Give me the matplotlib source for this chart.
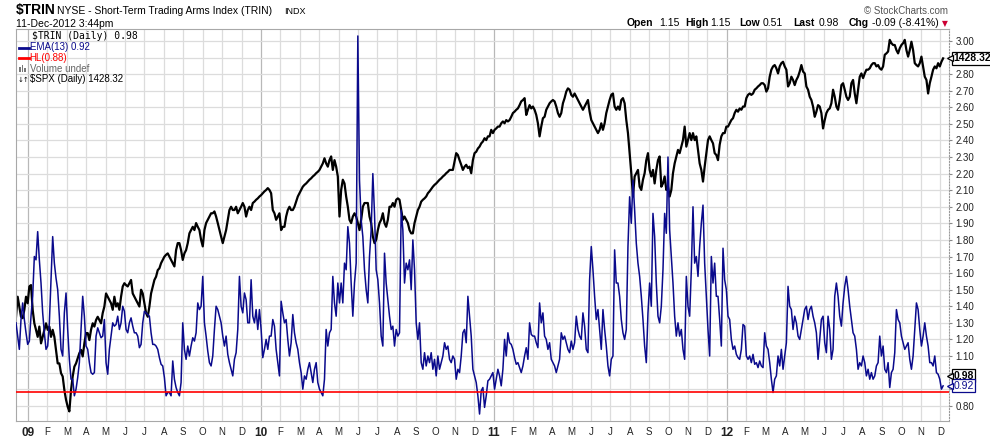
import numpy as np
import matplotlib.pyplot as plt
import matplotlib.transforms as mtransforms
from matplotlib.lines import Line2D
from matplotlib.patches import Rectangle

plt.rcParams['font.family'] = ['Liberation Sans', 'DejaVu Sans']

W, H = 990, 438

# ---------------  Data  ---------------
# one reading every ~2.6 days, starting mid Dec 2008 and ending 11 Dec 2012

# $TRIN EMA(13)
ema13 = [
    1.30, 1.22, 1.14, 1.32, 1.42, 1.32, 1.24, 1.17, 1.19, 1.34,
    1.46, 1.70, 1.68, 1.85, 1.68, 1.54, 1.36, 1.24, 1.14, 1.16,
    1.30, 1.56, 1.82, 1.66, 1.57, 1.50, 1.34, 1.14, 1.10, 1.36,
    1.48, 1.26, 1.08, 0.96, 0.96, 0.86, 0.90, 0.97, 1.06, 1.26,
    1.46, 1.34, 1.16, 1.14, 1.06, 1.00, 0.99, 1.00, 1.22, 1.27,
    1.24, 1.21, 1.22, 1.32, 1.06, 0.99, 1.14, 1.22, 1.30, 1.28,
    1.29, 1.34, 1.26, 1.30, 1.40, 1.37, 1.26, 1.24, 1.30, 1.33,
    1.28, 1.24, 1.24, 1.22, 1.15, 1.17, 1.30, 1.37, 1.36, 1.35,
    1.34, 1.24, 1.17, 1.17, 1.16, 1.14, 1.09, 1.05, 1.04, 0.97,
    0.86, 0.88, 0.88, 0.86, 1.07, 0.96, 0.91, 0.88, 0.86, 0.94,
    1.30, 1.14, 1.08, 1.16, 1.10, 1.16, 1.21, 1.19, 1.24, 1.42,
    1.38, 1.40, 1.58, 1.30, 1.22, 1.13, 1.06, 1.04, 1.10, 1.26,
    1.40, 1.38, 1.34, 1.30, 1.22, 1.16, 1.22, 1.11, 1.06, 1.02,
    0.98, 1.08, 1.12, 1.26, 1.58, 1.40, 1.36, 1.48, 1.44, 1.30,
    # 2010
    1.30, 1.56, 1.34, 1.30, 1.38, 1.26, 1.38, 1.26, 1.09, 1.14,
    1.20, 1.14, 1.22, 1.22, 1.32, 1.28, 1.14, 1.06, 0.98, 1.43,
    1.36, 1.30, 1.32, 1.20, 1.10, 1.18, 1.35, 1.24, 1.18, 1.14,
    1.06, 1.00, 0.90, 0.98, 0.96, 1.02, 1.06, 1.00, 0.94, 1.02,
    1.06, 0.94, 0.90, 0.88, 0.86, 0.96, 1.26, 1.16, 1.24, 1.26,
    1.58, 1.42, 1.34, 1.54, 1.42, 1.54, 1.42, 1.66, 1.62, 1.88,
    1.78, 1.54, 1.34, 1.54, 1.66, 3.03, 2.16, 1.92, 1.82, 1.62,
    1.50, 1.42, 1.70, 1.86, 2.20, 1.96, 1.62, 1.56, 1.42, 1.22,
    1.16, 1.72, 1.54, 1.44, 1.34, 1.26, 1.28, 1.16, 1.26, 1.22,
    1.24, 1.98, 1.86, 1.54, 1.66, 1.62, 1.68, 1.50, 1.80, 1.62,
    1.30, 1.20, 1.30, 1.06, 1.02, 1.12, 1.04, 1.10, 1.06, 1.12,
    1.02, 1.08, 0.98, 1.10, 1.02, 1.06, 1.10, 1.18, 1.14, 1.16,
    1.08, 1.06, 1.10, 1.08, 0.96, 1.02, 1.00, 1.10, 1.24, 1.26,
    1.18, 1.46, 1.34, 1.22, 1.02, 0.98, 0.94, 0.86, 0.75, 0.89,
    0.91, 0.79,
    # 2011
    0.86, 0.95, 0.96, 0.98, 1.00, 0.90, 0.96, 1.02, 0.98, 0.92,
    1.02, 1.20, 1.10, 1.24, 1.18, 1.17, 1.14, 1.09, 1.05, 1.06,
    1.03, 1.00, 1.04, 1.10, 1.15, 1.08, 1.30, 1.23, 1.22, 1.22,
    1.18, 1.15, 1.42, 1.30, 1.36, 1.22, 1.20, 1.14, 1.18, 1.08,
    1.06, 1.04, 1.00, 1.04, 1.08, 1.24, 1.20, 1.22, 1.18, 1.14,
    1.12, 1.19, 1.14, 1.18, 1.34, 1.26, 1.22, 1.20, 1.36, 1.28,
    1.14, 1.12, 1.56, 1.76, 1.62, 1.46, 1.32, 1.38, 1.26, 1.14,
    1.38, 1.26, 1.16, 1.04, 0.98, 1.08, 1.10, 1.74, 1.54, 1.54,
    1.46, 1.32, 1.24, 1.20, 1.26, 1.76, 2.06, 1.90, 2.16, 1.98,
    1.78, 1.66, 1.58, 1.46, 1.32, 1.16, 1.06, 1.36, 1.54, 1.40,
    1.96, 1.82, 1.54, 1.34, 1.30, 1.40, 1.62, 1.96, 1.84, 2.30,
    1.86, 1.70, 1.54, 1.34, 1.22, 1.30, 1.22, 1.26, 1.14, 1.08,
    1.58, 1.40, 1.34, 1.62, 2.00, 1.66, 1.70, 1.58, 1.76, 1.90,
    2.01, 1.66, 1.46, 1.26, 1.10, 1.70, 1.54,
    # 2012
    1.66, 1.46, 1.46, 1.32, 1.16, 1.75, 1.56, 1.50, 1.34, 1.32,
    1.20, 1.14, 1.16, 1.11, 1.09, 1.08, 1.14, 1.29, 1.28, 1.10,
    1.08, 1.10, 1.06, 1.11, 1.05, 1.06, 1.03, 1.07, 1.04, 1.03,
    1.24, 1.16, 1.14, 1.06, 0.96, 0.88, 0.96, 0.98, 1.10, 1.04,
    1.14, 1.02, 1.10, 1.18, 1.52, 1.40, 1.38, 1.26, 1.34, 1.30,
    1.22, 1.20, 1.26, 1.32, 1.38, 1.40, 1.32, 1.38, 1.40, 1.34,
    1.30, 1.24, 1.08, 1.20, 1.32, 1.34, 1.18, 1.12, 1.34, 1.26,
    1.08, 1.14, 1.46, 1.54, 1.46, 1.34, 1.28, 1.42, 1.52, 1.58,
    1.50, 1.40, 1.32, 1.24, 1.22, 1.14, 1.02, 1.06, 1.04, 1.10,
    1.06, 0.98, 1.02, 0.96, 1.00, 0.96, 0.98, 1.04, 1.06, 1.22,
    1.10, 1.16, 1.02, 1.00, 1.06, 0.91, 1.00, 1.02, 1.12, 1.38,
    1.32, 1.30, 1.22, 1.18, 1.14, 1.16, 1.18, 1.08, 1.02, 1.10,
    1.26, 1.42, 1.38, 1.26, 1.16, 1.22, 1.30, 1.22, 1.16, 1.06,
    1.06, 1.04, 1.10, 1.00, 0.99, 0.96, 0.90, 0.92,
]

# $SPX close (overlay)
spx = [
    874, 917, 896, 874, 871, 889, 917, 903, 939, 942,
    889, 860, 846, 831, 853, 817, 831, 846, 860, 846,
    853, 831, 846, 831, 803, 774, 774, 753, 746, 717,
    696, 681, 671, 717, 746, 767, 774, 785, 796, 803,
    789, 817, 839, 839, 824, 846, 860, 853, 867, 874,
    867, 860, 882, 896, 924, 917, 910, 903, 889, 917,
    896, 903, 889, 917, 939, 946, 942, 939, 946, 953,
    924, 917, 910, 903, 896, 932, 924, 903, 882, 874,
    896, 924, 939, 953, 960, 974, 978, 989, 996, 1003,
    1007, 1010, 1003, 996, 989, 982, 1017, 1032, 1032, 1017,
    996, 1010, 1017, 1032, 1053, 1060, 1067, 1060, 1075, 1067,
    1060, 1039, 1025, 1060, 1075, 1082, 1089, 1096, 1096, 1100,
    1089, 1075, 1060, 1046, 1032, 1046, 1060, 1082, 1103, 1110,
    1103, 1103, 1110, 1096, 1103, 1110, 1118, 1110, 1089, 1103,
    # 2010
    1110, 1103, 1118, 1121, 1125, 1128, 1132, 1135, 1139, 1143,
    1146, 1150, 1146, 1139, 1103, 1096, 1082, 1089, 1096, 1060,
    1067, 1067, 1089, 1103, 1110, 1103, 1103, 1110, 1121, 1132,
    1139, 1146, 1153, 1157, 1160, 1164, 1168, 1171, 1175, 1178,
    1182, 1185, 1189, 1196, 1203, 1214, 1203, 1196, 1210, 1218,
    1189, 1210, 1196, 1175, 1089, 1146, 1168, 1160, 1132, 1110,
    1082, 1075, 1089, 1096, 1089, 1075, 1060, 1082, 1110, 1118,
    1118, 1118, 1089, 1075, 1046, 1032, 1039, 1060, 1075, 1082,
    1096, 1075, 1067, 1082, 1110, 1110, 1118, 1110, 1125, 1128,
    1125, 1103, 1082, 1089, 1082, 1075, 1060, 1053, 1053, 1075,
    1089, 1103, 1110, 1121, 1125, 1128, 1132, 1139, 1143, 1148,
    1153, 1157, 1160, 1164, 1168, 1171, 1175, 1178, 1182, 1185,
    1189, 1189, 1189, 1207, 1225, 1221, 1210, 1200, 1189, 1196,
    1200, 1193, 1196, 1182, 1210, 1225, 1228, 1235, 1239, 1246,
    1250, 1257,
    # 2011
    1253, 1261, 1261, 1275, 1268, 1275, 1278, 1282, 1282, 1289,
    1293, 1289, 1296, 1293, 1296, 1303, 1311, 1314, 1318, 1321,
    1328, 1336, 1339, 1343, 1307, 1318, 1328, 1321, 1325, 1318,
    1307, 1289, 1261, 1282, 1300, 1303, 1318, 1325, 1332, 1336,
    1339, 1336, 1325, 1311, 1303, 1311, 1332, 1343, 1357, 1364,
    1361, 1350, 1346, 1353, 1346, 1339, 1332, 1325, 1318, 1325,
    1332, 1339, 1314, 1296, 1289, 1282, 1275, 1268, 1275, 1289,
    1275, 1289, 1311, 1325, 1339, 1350, 1353, 1325, 1318, 1325,
    1318, 1339, 1343, 1332, 1296, 1268, 1225, 1182, 1132, 1175,
    1182, 1189, 1153, 1146, 1168, 1182, 1210, 1225, 1189, 1175,
    1189, 1160, 1189, 1210, 1218, 1153, 1160, 1175, 1146, 1153,
    1132, 1146, 1182, 1203, 1218, 1232, 1225, 1239, 1253, 1282,
    1239, 1253, 1268, 1253, 1268, 1253, 1261, 1232, 1203, 1189,
    1164, 1196, 1225, 1253, 1261, 1253, 1246,
    # 2012
    1225, 1221, 1210, 1243, 1261, 1268, 1268, 1282, 1282, 1289,
    1296, 1300, 1311, 1318, 1314, 1321, 1318, 1325, 1325, 1343,
    1350, 1353, 1350, 1353, 1361, 1364, 1368, 1371, 1375, 1375,
    1371, 1357, 1364, 1389, 1404, 1411, 1414, 1407, 1396, 1411,
    1418, 1421, 1411, 1404, 1368, 1375, 1389, 1382, 1371, 1382,
    1389, 1400, 1414, 1400, 1396, 1368, 1361, 1346, 1339, 1325,
    1303, 1314, 1328, 1325, 1311, 1278, 1296, 1311, 1318, 1321,
    1332, 1361, 1346, 1325, 1318, 1339, 1371, 1375, 1361, 1346,
    1339, 1346, 1375, 1382, 1353, 1332, 1361, 1389, 1396, 1386,
    1396, 1404, 1404, 1407, 1414, 1418, 1418, 1411, 1414, 1407,
    1404, 1411, 1436, 1439, 1443, 1468, 1461, 1457, 1457, 1446,
    1439, 1450, 1457, 1461, 1468, 1446, 1432, 1446, 1464, 1446,
    1418, 1414, 1411, 1418, 1432, 1411, 1389, 1382, 1353, 1375,
    1389, 1404, 1411, 1407, 1418, 1411, 1421, 1428.32,
]

hl_level = 0.88
trin_last = 0.98
ema_last = 0.92
spx_last = 1428.32

quote_names = ['Open', 'High', 'Low', 'Last', 'Chg']
quote_values = ['1.15', '1.15', '0.51', '0.98', '-0.09 (-8.41%)']

month_letters = ['J', 'F', 'M', 'A', 'M', 'J', 'J', 'A', 'S', 'O', 'N', 'D']
year_labels = ['09', '10', '11', '12']
price_ticks = [round(0.8 + 0.1 * i, 2) for i in range(23)]
# these labels sit under the value boxes on the right edge
covered_ticks = [0.90, 1.00, 2.90]

# sample dates as months since 1 Jan 2009
months = -0.618 + 0.0859 * np.arange(len(ema13))
# $SPX sits on its own hidden scale
spx_on_axis = 0.754 + (np.array(spx) - 666.8) / 355.7


def px(x, y):
    # pixel position -> figure fraction
    return x / W, 1 - y / H


# ---------------  Figure  ---------------
fig = plt.figure(figsize=(W / 100, H / 100), dpi=100)
ax = fig.add_axes([16 / W, 1 - 421 / H, (948.5 - 16) / W, (421 - 29) / H])

# grid: one vertical line per month, darker at each new year
for m in range(48):
    ax.axvline(m, color='#b8b8b8' if m % 12 == 0 else '#dcdcdc', lw=0.9, zorder=0)
for v in price_ticks:
    ax.axhline(v, color='#dcdcdc', lw=0.9, zorder=0)

ax.plot(months, spx_on_axis, color='black', lw=1.6, zorder=2)
ax.plot(months, ema13, color='#0a0a8c', lw=1.1, zorder=3)
ax.axhline(hl_level, color='#ff0000', lw=1.2, zorder=4)

# right side tick labels
ax.yaxis.tick_right()
ax.set_yticks(price_ticks)
ax.set_yticklabels(['' if v in covered_ticks else f'{v:.2f}' for v in price_ticks])
ax.tick_params(axis='y', length=2, pad=3, labelsize=7, colors='#888888', labelcolor='#222222')

# month letters, bold year numbers
xlabels = []
for m in range(48):
    if m % 12 == 0:
        xlabels.append(year_labels[m // 12])
    else:
        xlabels.append(month_letters[m % 12])
ax.set_xticks(range(48))
ax.set_xticklabels(xlabels)
ax.tick_params(axis='x', length=0, pad=4, labelsize=7, labelcolor='#222222')
for m, lbl in enumerate(ax.get_xticklabels()):
    if m % 12 == 0:
        lbl.set_fontweight('bold')
        lbl.set_fontsize(8.5)

for side in ['left', 'top', 'bottom']:
    ax.spines[side].set_color('#a8a8a8')
ax.spines['right'].set_color('#999999')
ax.spines['right'].set_linestyle(':')

# value boxes on the right edge
trans = mtransforms.blended_transform_factory(ax.transAxes, ax.transData)


def value_box(v, s, edge, color, weight):
    ax.text(1.0 + 5 / 932.5, v, s, transform=trans, va='center', ha='left',
            fontsize=7.5, fontweight=weight, color=color, zorder=6, clip_on=False,
            bbox=dict(boxstyle='square,pad=0.15', fc='white', ec=edge, lw=0.9))
    ax.plot([1.0 + 2 / 932.5], [v], marker='<', ms=5, mfc='white', mec=edge, mew=0.9,
            transform=trans, clip_on=False, zorder=7)


value_box(0.754 + (spx_last - 666.8) / 355.7, f'{spx_last:.2f}', 'black', 'black', 'bold')
value_box(trin_last, f'{trin_last:.2f}', 'black', 'black', 'bold')
value_box(ema_last, f'{ema_last:.2f}', '#0a0a8c', '#0a0a8c', 'normal')

ax.set_xlim(-0.618, 47.42)
ax.set_ylim(0.708, 3.072)

# ---------------  Header texts  ---------------
fig.text(*px(16, 10), r'\$TRIN', fontsize=10, fontweight='bold', va='center')
fig.text(*px(57, 10.5), 'NYSE - Short-Term Trading Arms Index (TRIN)', fontsize=7.5, va='center')
fig.text(*px(284, 11), 'INDX', fontsize=6.5, va='center')
fig.text(*px(16, 24), '11-Dec-2012 3:44pm', fontsize=7.5, va='center')
fig.text(*px(948, 11), '\u00a9 StockCharts.com', fontsize=7, color='#555555', ha='right', va='center')

name_x = [626.7, 685.7, 739.3, 793.3, 848.3]
value_x = [659, 710.7, 762.7, 818.3, 871.7]
for name, val, nx, vx in zip(quote_names, quote_values, name_x, value_x):
    fig.text(*px(nx, 23.5), name, fontsize=7.5, fontweight='bold', va='center')
    fig.text(*px(vx, 23.5), val, fontsize=7.5, va='center')
fig.text(*px(942, 23.5), '\u25bc', fontsize=5.5, color='#cc0033', va='center',
         family='DejaVu Sans')

# ---------------  Legend inside the plot  ---------------
fig.text(*px(32, 36), r'\$TRIN (Daily) 0.98', family='DejaVu Sans Mono', fontsize=7, va='center')

fig.add_artist(Line2D([19 / W, 28.5 / W], [1 - 47.5 / H] * 2, color='#0a0a8c', lw=2))
fig.text(*px(29.5, 47.5), f'EMA(13) {ema_last:.2f}', fontsize=7, color='#0a0a8c', va='center')

fig.add_artist(Line2D([19 / W, 28.5 / W], [1 - 58.3 / H] * 2, color='#ff0000', lw=2))
fig.text(*px(29.5, 58.3), f'HL({hl_level:.2f})', fontsize=7, color='#ff0000', va='center')

for bx, bh in zip([19, 21.5, 24], [5, 7, 4]):
    fig.add_artist(Rectangle((bx / W, 1 - 72 / H), 1.6 / W, bh / H,
                             transform=fig.transFigure, color='#777777', lw=0))
fig.text(*px(29.5, 69), 'Volume undef', fontsize=7, color='#666666', va='center')

fig.text(*px(18, 79.5), '\u2193\u2191', fontsize=5, family='DejaVu Sans', va='center')
fig.text(*px(29.5, 79.5), r'\$SPX (Daily) ' + f'{spx_last:.2f}', fontsize=7, va='center')

fig.savefig('out.png', dpi=100)
